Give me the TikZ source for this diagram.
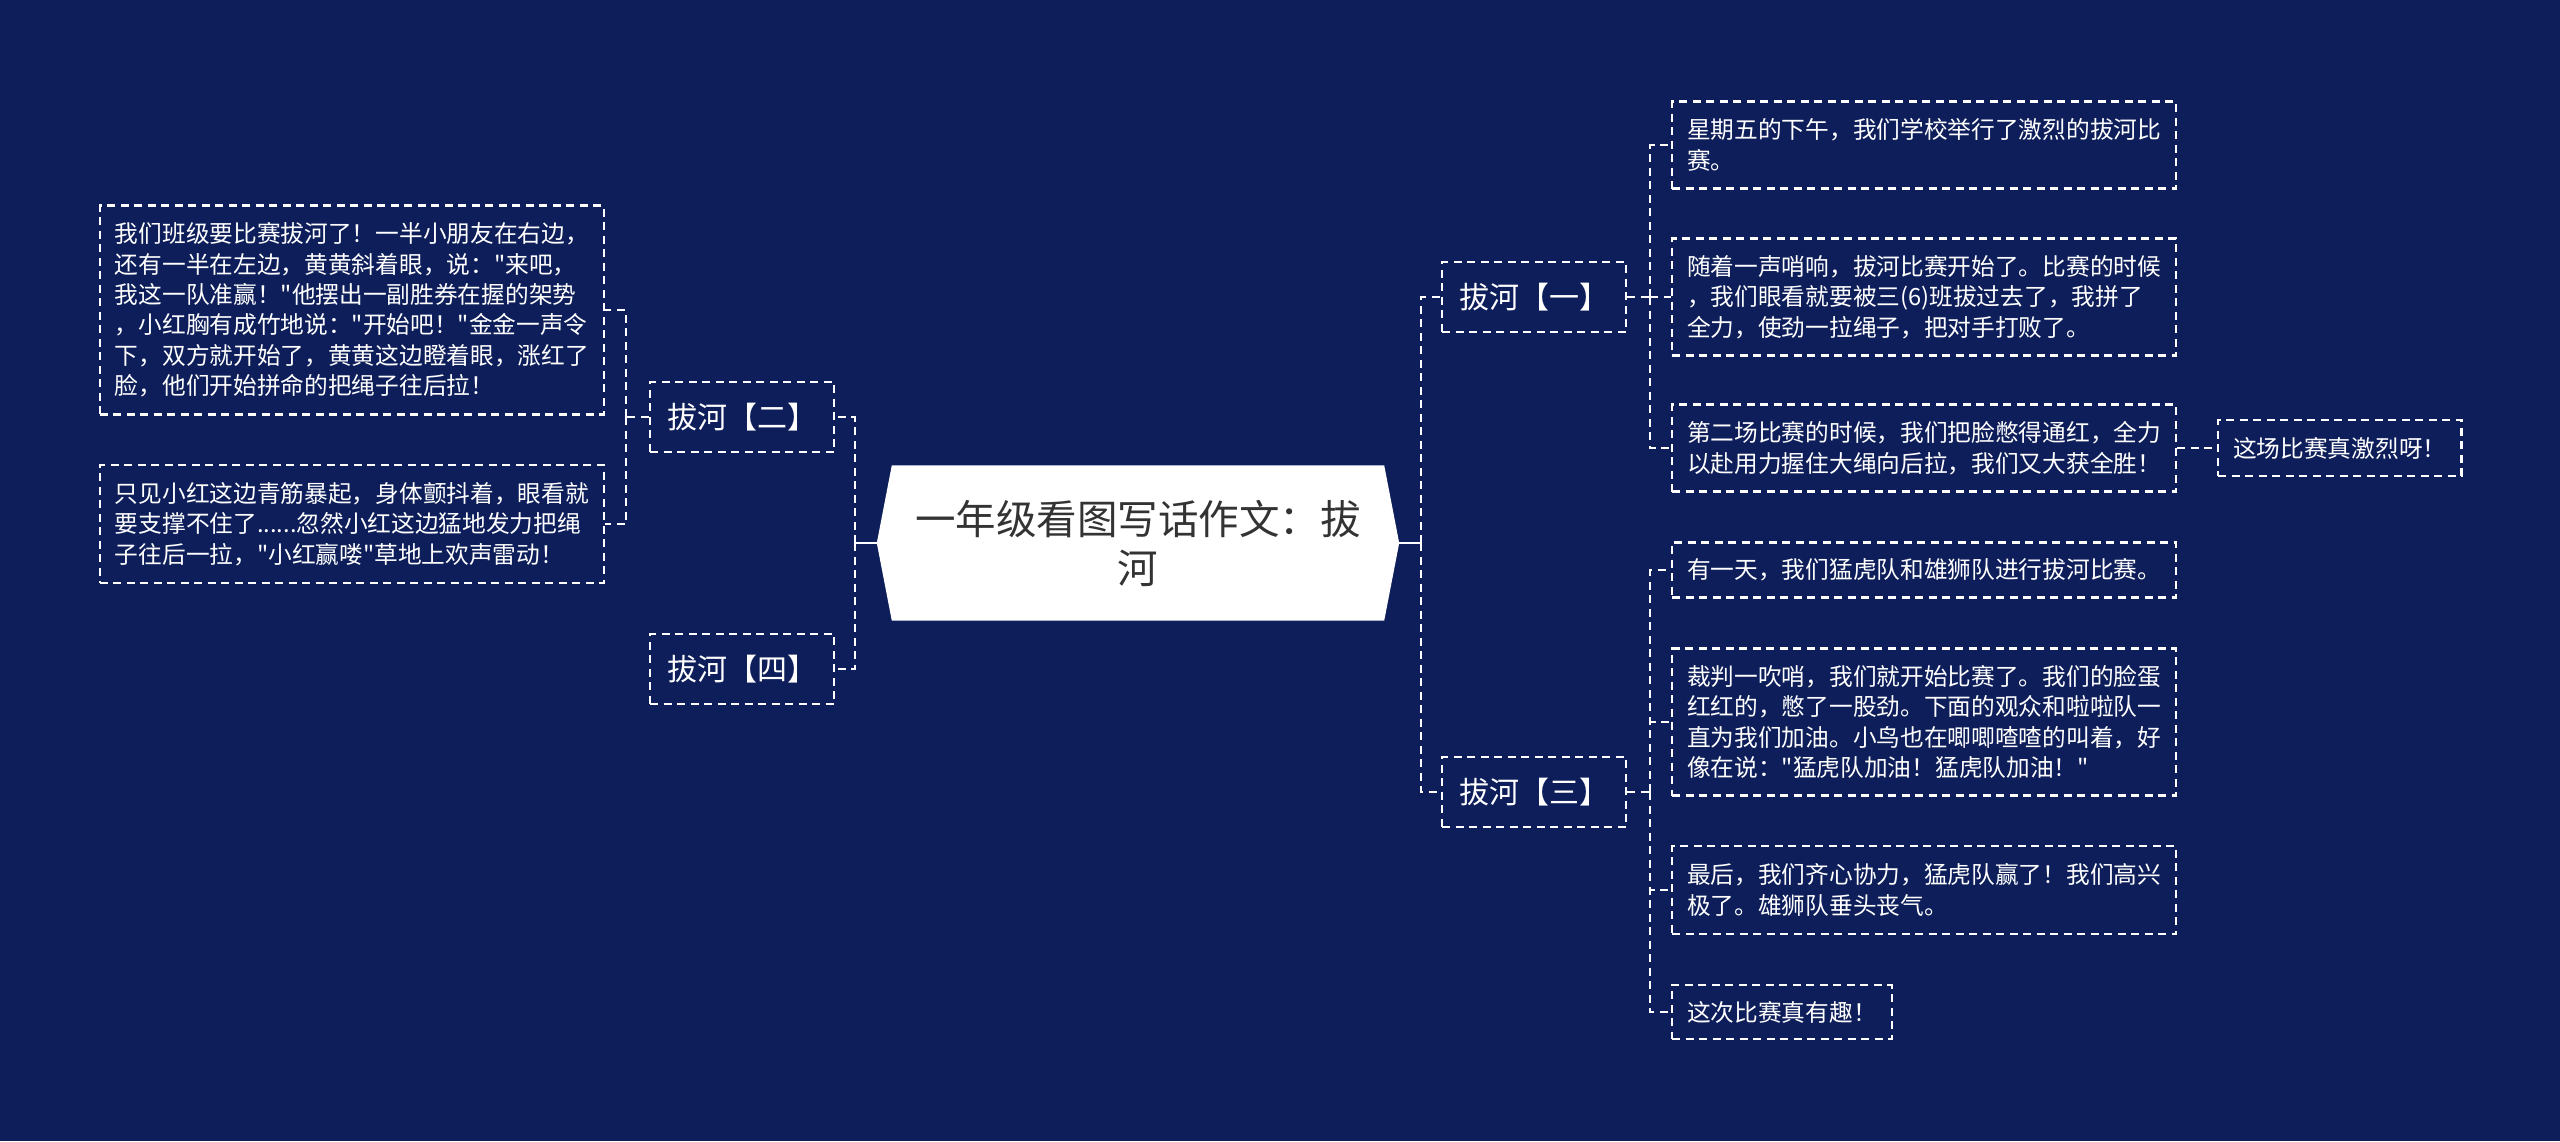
\documentclass[tikz,border=0pt]{standalone}
\usepackage{fontspec}
\newfontfamily\cjk{Noto Sans CJK SC}
\definecolor{bgnavy}{RGB}{13,30,90}
\definecolor{roottext}{RGB}{51,51,51}
\tikzset{
  dashline/.style={draw=white, line width=2.2pt, dash pattern=on 8pt off 5.5pt},
  solidline/.style={draw=white, line width=2.2pt},
  leafbox/.style={dashline, text=white, inner xsep=15pt, inner ysep=0pt, align=left,
    font=\cjk\fontsize{23.7}{30.4}\selectfont},
  branchbox/.style={dashline, text=white, inner xsep=17pt, inner ysep=0pt, minimum height=70pt,
    font=\cjk\fontsize{30}{36}\selectfont},
}
\begin{document}
\begin{tikzpicture}[x=1pt,y=-1pt]
\useasboundingbox (0,0) rectangle (2560,1141);
\fill[bgnavy] (0,0) rectangle (2560,1141);

% root
\node[minimum width=522pt, minimum height=155pt, inner sep=0pt] (root) at (1138,543) {};
\fill[white] ([xshift=15pt]root.north west) -- ([xshift=-15pt]root.north east) -- (root.east)
  -- ([xshift=-15pt]root.south east) -- ([xshift=15pt]root.south west) -- (root.west) -- cycle;
\node[text=roottext, align=center, font=\cjk\fontsize{40.5}{49}\selectfont] (roottxt) at (root.center)
  {一年级看图写话作文：拔\\河};

% branches
\node[branchbox] (b2) at (742,417) {拔河【二】};
\node[branchbox] (b4) at (742,669) {拔河【四】};
\node[branchbox] (b1) at (1534,297) {拔河【一】};
\node[branchbox] (b3) at (1534,792) {拔河【三】};

% left leaves
\node[leafbox, anchor=east, minimum height=209pt] (l1) at (605,310) {我们班级要比赛拔河了！一半小朋友在右边，\\还有一半在左边，黄黄斜着眼，说："来吧，\\我这一队准赢！"他摆出一副胜券在握的架势\\，小红胸有成竹地说："开始吧！"金金一声令\\下，双方就开始了，黄黄这边瞪着眼，涨红了\\脸，他们开始拼命的把绳子往后拉！};
\node[leafbox, anchor=east, minimum height=118pt] (l2) at (605,524) {只见小红这边青筋暴起，身体颤抖着，眼看就\\要支撑不住了......忽然小红这边猛地发力把绳\\子往后一拉，"小红赢喽"草地上欢声雷动！};

% right leaves of 一
\node[leafbox, anchor=west, minimum height=87pt] (ra) at (1671,145) {星期五的下午，我们学校举行了激烈的拔河比\\赛。};
\node[leafbox, anchor=west, minimum height=117pt] (rb) at (1671,297) {随着一声哨响，拔河比赛开始了。比赛的时候\\，我们眼看就要被三(6)班拔过去了，我拼了\\全力，使劲一拉绳子，把对手打败了。};
\node[leafbox, anchor=west, minimum height=87pt] (rc) at (1671,448) {第二场比赛的时候，我们把脸憋得通红，全力\\以赴用力握住大绳向后拉，我们又大获全胜！};
\node[leafbox, anchor=west, minimum height=56pt] (rcc) at (2217,448) {这场比赛真激烈呀！};

% right leaves of 三
\node[leafbox, anchor=west, minimum height=55pt] (rd) at (1671,570) {有一天，我们猛虎队和雄狮队进行拔河比赛。};
\node[leafbox, anchor=west, minimum height=147pt] (re) at (1671,722) {裁判一吹哨，我们就开始比赛了。我们的脸蛋\\红红的，憋了一股劲。下面的观众和啦啦队一\\直为我们加油。小鸟也在唧唧喳喳的叫着，好\\像在说："猛虎队加油！猛虎队加油！"};
\node[leafbox, anchor=west, minimum height=88pt] (rf) at (1671,890) {最后，我们齐心协力，猛虎队赢了！我们高兴\\极了。雄狮队垂头丧气。};
\node[leafbox, anchor=west, minimum height=54pt] (rg) at (1671,1012) {这次比赛真有趣！};

% connectors root
\draw[solidline] (root.west) -- ++(-22,0) coordinate (lj);
\draw[solidline] (root.east) -- ++(22,0) coordinate (rj);
\draw[dashline] (lj) |- (b2.east);
\draw[dashline] (lj) |- (b4.east);
\draw[dashline] (rj) |- (b1.west);
\draw[dashline] (rj) |- (b3.west);

% branch to leaves
\draw[dashline] (b2.west) -- ++(-23,0) coordinate (j2);
\draw[dashline] (j2) |- (l1.east);
\draw[dashline] (j2) |- (l2.east);

\draw[dashline] (b1.east) -- ++(23,0) coordinate (j1);
\draw[dashline] (j1) |- (ra.west);
\draw[dashline] (j1) |- (rb.west);
\draw[dashline] (j1) |- (rc.west);

\draw[dashline] (b3.east) -- ++(23,0) coordinate (j3);
\draw[dashline] (j3) |- (rd.west);
\draw[dashline] (j3) |- (re.west);
\draw[dashline] (j3) |- (rf.west);
\draw[dashline] (j3) |- (rg.west);

\draw[dashline] (rc.east) -- (rcc.west);
\end{tikzpicture}
\end{document}
